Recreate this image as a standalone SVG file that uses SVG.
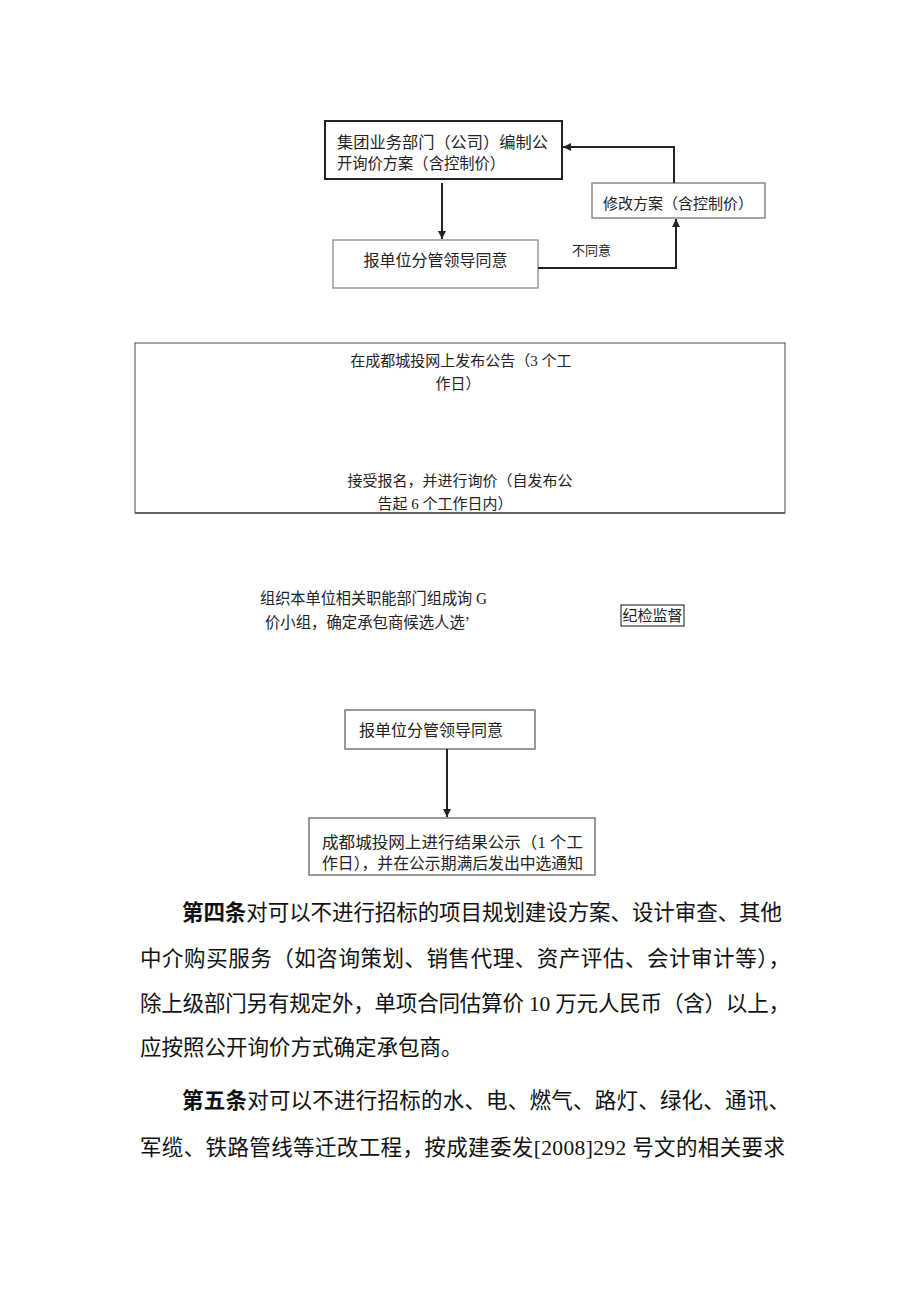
<svg xmlns="http://www.w3.org/2000/svg" width="920" height="1301" viewBox="0 0 920 1301">
<style>
.t{font-family:"Liberation Serif","Noto Sans CJK SC",serif;fill:#222;}
.s16{font-size:16px;}
.s15{font-size:15px;}
.s13{font-size:13px;}
.p{font-family:"Liberation Serif","Noto Sans CJK SC",serif;font-size:21.5px;fill:#111;}
.b{font-weight:bold;}
.con{fill:none;stroke:#222;stroke-width:2;}
</style>
<defs>
<marker id="ah" viewBox="0 0 10 10" refX="10" refY="5" markerWidth="8" markerHeight="8" markerUnits="userSpaceOnUse" orient="auto">
<path d="M0,0 L10,5 L0,10 z" fill="#222"/>
</marker>
</defs>
<rect width="920" height="1301" fill="#fff"/>

<g id="n1">
<rect x="325" y="121" width="237" height="58" fill="none" stroke="#222" stroke-width="2"/>
<text class="t s16" x="337" y="148" textLength="211" lengthAdjust="spacingAndGlyphs">集团业务部门（公司）编制公</text>
<text class="t s16" x="337" y="169" textLength="168" lengthAdjust="spacingAndGlyphs">开询价方案（含控制价）</text>
</g>
<g id="n2">
<rect x="333" y="240" width="205" height="48" fill="none" stroke="#999" stroke-width="1.5"/>
<text class="t s16" x="435.5" y="266" text-anchor="middle">报单位分管领导同意</text>
</g>
<g id="n3">
<rect x="592" y="183" width="173" height="35" fill="none" stroke="#888" stroke-width="1.5"/>
<text class="t s15" x="678" y="209" text-anchor="middle">修改方案（含控制价）</text>
</g>
<g id="n4">
<rect x="135" y="343" width="650" height="170" fill="none" stroke="#444" stroke-width="1"/>
<line x1="135" y1="513" x2="785" y2="513" stroke="#666" stroke-width="2"/>
<text class="t s15" x="461" y="366" text-anchor="middle">在成都城投网上发布公告（3 个工</text>
<text class="t s15" x="458" y="389" text-anchor="middle">作日）</text>
<text class="t s15" x="460" y="486" text-anchor="middle">接受报名，并进行询价（自发布公</text>
<text class="t s15" x="445" y="509" text-anchor="middle">告起 6 个工作日内）</text>
</g>
<g id="n5">
<text class="t s16" x="260" y="604" textLength="227" lengthAdjust="spacingAndGlyphs">组织本单位相关职能部门组成询 G</text>
<text class="t s16" x="265" y="628" textLength="205" lengthAdjust="spacingAndGlyphs">价小组，确定承包商候选人选’</text>
</g>
<g id="n6">
<rect x="621" y="605" width="63" height="21" fill="none" stroke="#111" stroke-width="1"/>
<text class="t s15" x="652.5" y="621" text-anchor="middle">纪检监督</text>
</g>
<g id="n7">
<rect x="345" y="710" width="190" height="39" fill="none" stroke="#777" stroke-width="1.5"/>
<text class="t s16" x="431" y="736" text-anchor="middle">报单位分管领导同意</text>
</g>
<g id="n8">
<rect x="309" y="818" width="286" height="57" fill="none" stroke="#777" stroke-width="1.5"/>
<text class="t s16" x="322" y="848" textLength="261" lengthAdjust="spacingAndGlyphs">成都城投网上进行结果公示（1 个工</text>
<text class="t s16" x="322" y="869" textLength="261" lengthAdjust="spacingAndGlyphs">作日），并在公示期满后发出中选通知</text>
</g>

<g id="connectors">
<line class="con" x1="442" y1="183" x2="442" y2="239" marker-end="url(#ah)"/>
<polyline class="con" points="538,268 676,268 676,219" marker-end="url(#ah)"/>
<text class="t s13" x="572" y="255">不同意</text>
<polyline class="con" points="674,183 674,147 563,147" marker-end="url(#ah)"/>
<line class="con" x1="447" y1="749" x2="447" y2="817" marker-end="url(#ah)"/>
</g>

<g id="body">
<text class="p" x="182" y="920" textLength="600" lengthAdjust="spacing"><tspan class="b">第四条</tspan>对可以不进行招标的项目规划建设方案、设计审查、其他</text>
<text class="p" x="140" y="966" textLength="650" lengthAdjust="spacing">中介购买服务（如咨询策划、销售代理、资产评估、会计审计等），</text>
<text class="p" x="140" y="1011" textLength="650" lengthAdjust="spacing">除上级部门另有规定外，单项合同估算价 10 万元人民币（含）以上，</text>
<text class="p" x="140" y="1055">应按照公开询价方式确定承包商。</text>
<text class="p" x="182" y="1108" textLength="608" lengthAdjust="spacing"><tspan class="b">第五条</tspan>对可以不进行招标的水、电、燃气、路灯、绿化、通讯、</text>
<text class="p" x="140" y="1155" textLength="645" lengthAdjust="spacing">军缆、铁路管线等迁改工程，按成建委发[2008]292 号文的相关要求</text>
</g>
</svg>
